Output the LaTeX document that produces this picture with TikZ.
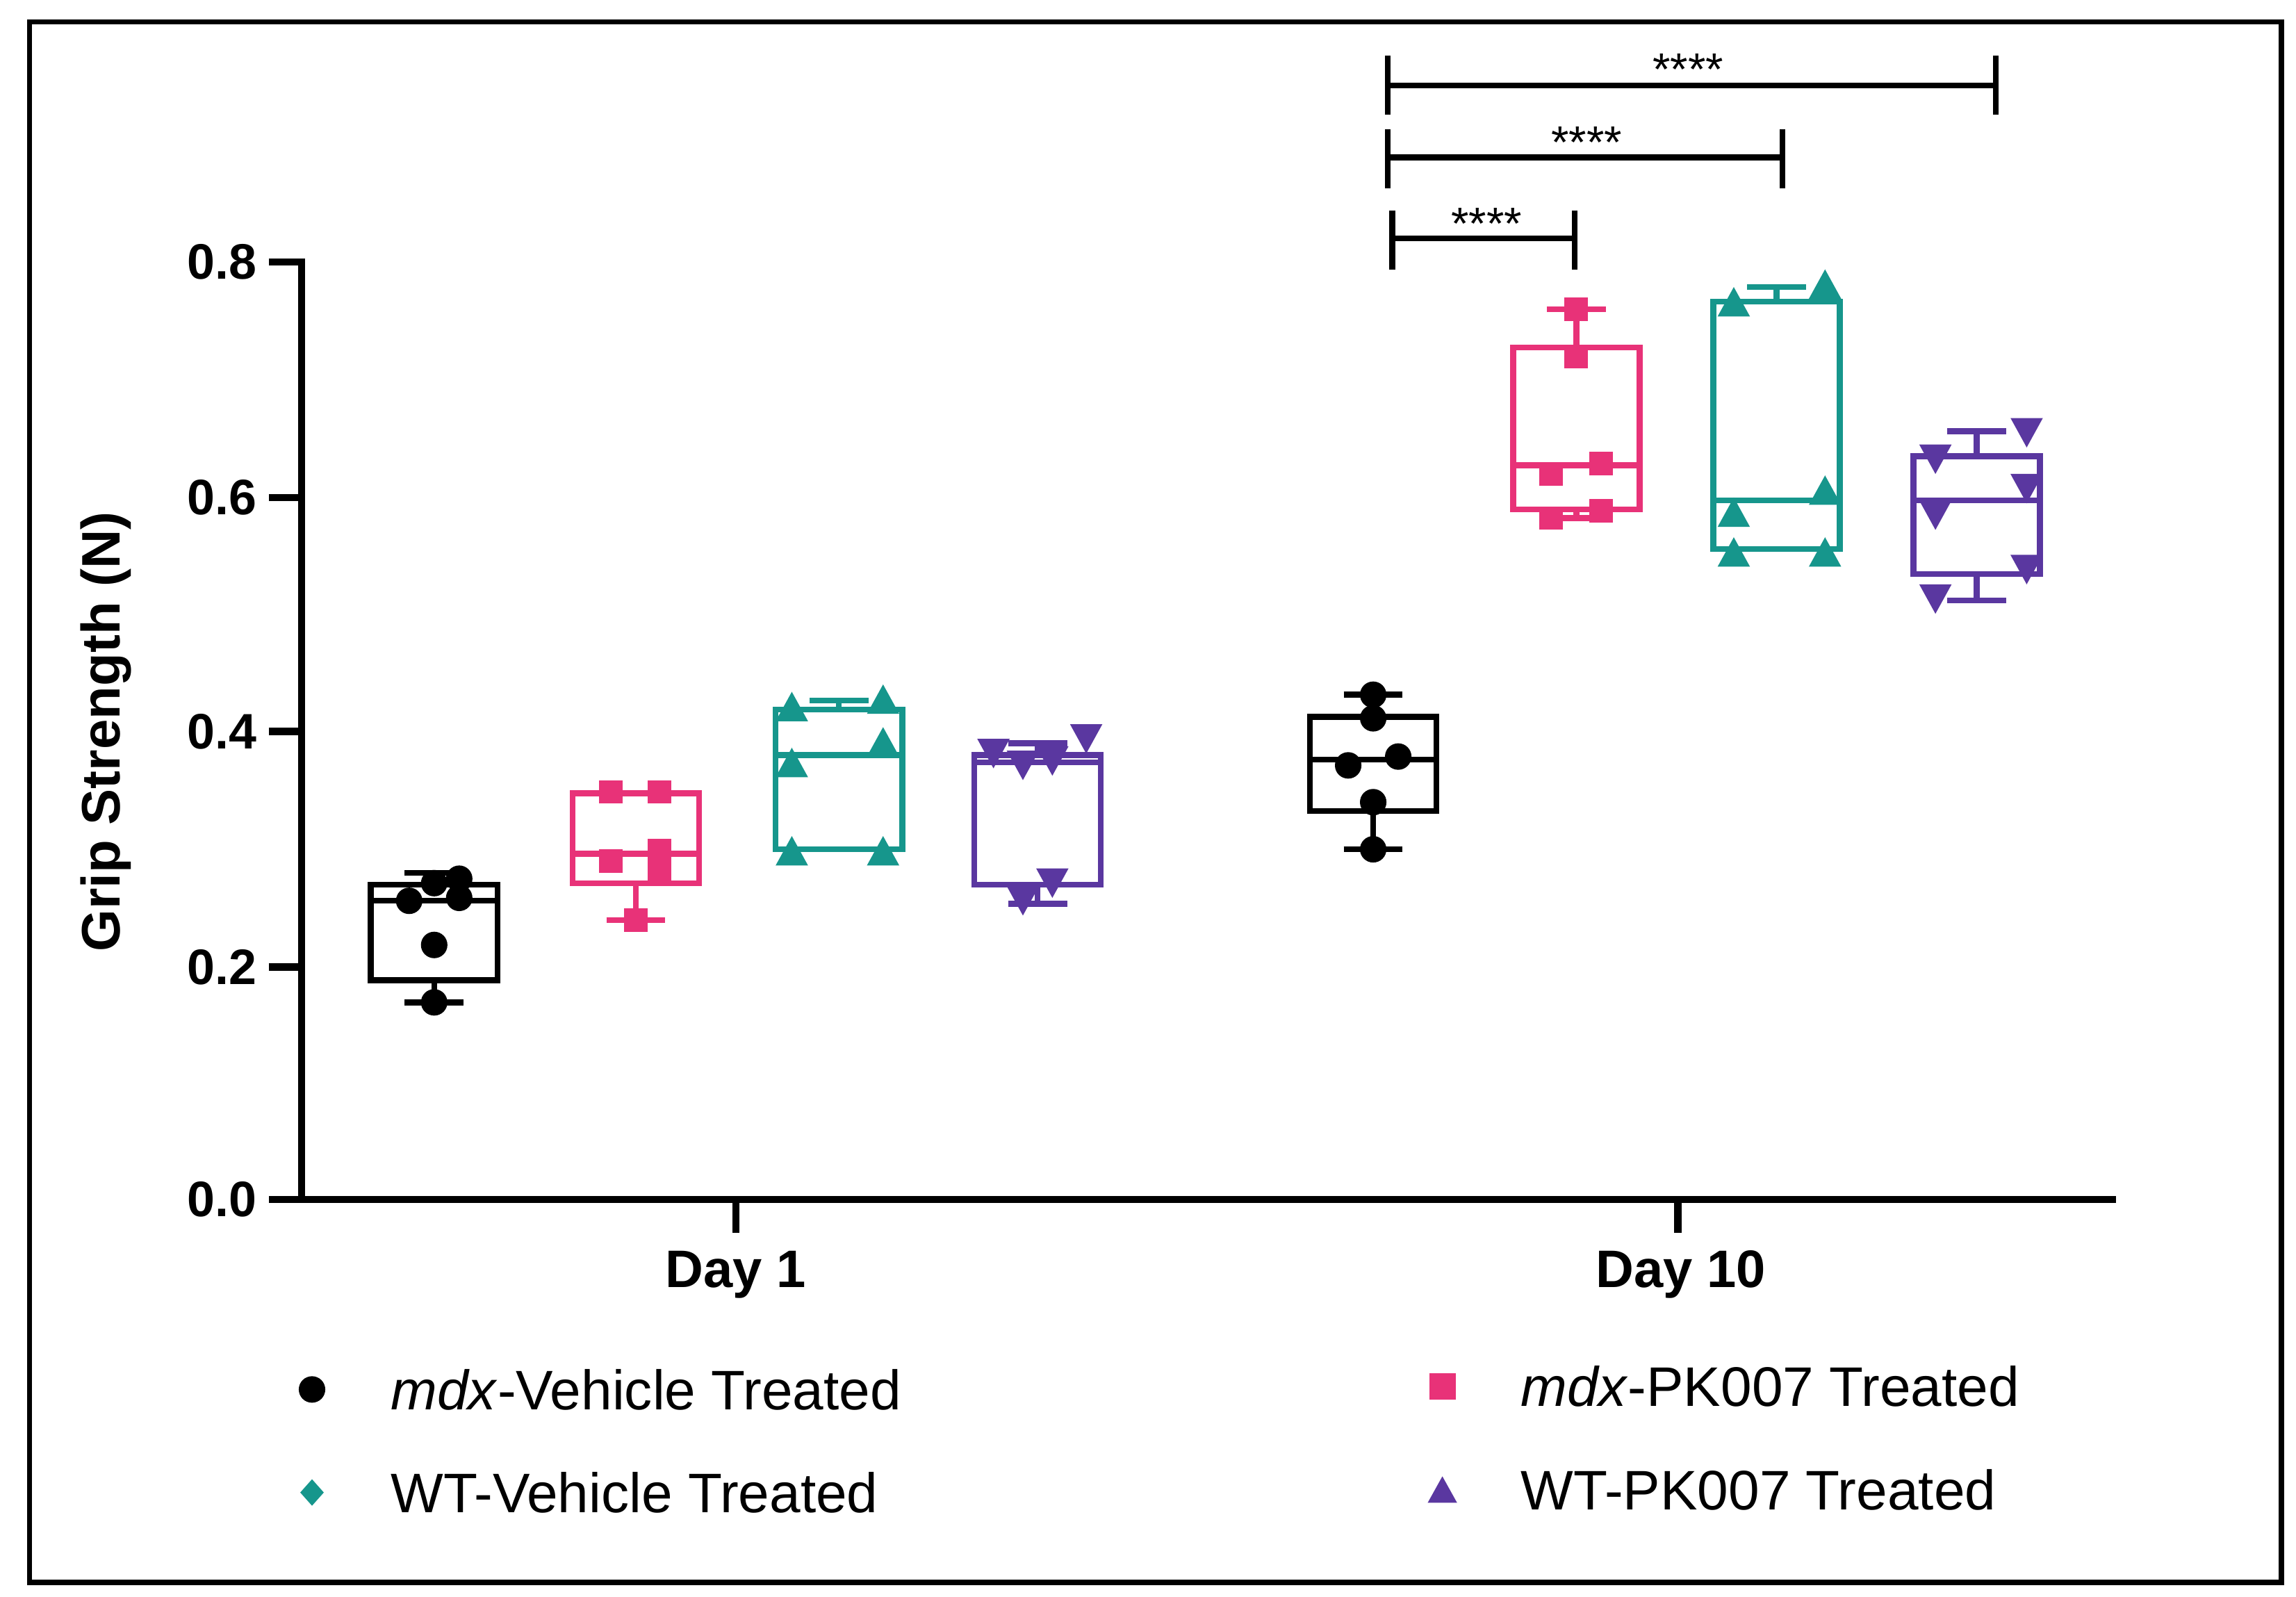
\documentclass[tikz,border=0pt]{standalone}
\usepackage{fontspec}
\setmainfont{Liberation Sans}
\begin{document}
\definecolor{cpink}{RGB}{232,50,120}
\definecolor{cteal}{RGB}{22,150,140}
\definecolor{cpur}{RGB}{90,55,160}
\newcommand\bxplot[7]{% x,color,q3(top),q1(bottom),med,whi,wlo
 \draw[#2,line width=4bp] (#1-43,#3) rectangle (#1+43,#4);
 \draw[#2,line width=4bp] (#1-43,#5) -- (#1+43,#5);
 \draw[#2,line width=4bp] (#1,#3) -- (#1,#6) (#1-20,#6) -- (#1+20,#6);
 \draw[#2,line width=4bp] (#1,#4) -- (#1,#7) (#1-20,#7) -- (#1+20,#7);}
\newcommand\mcirc[3]{\fill[#1] (#2,#3) circle (9);}
\newcommand\msq[3]{\fill[#1] (#2-8,#3-8) rectangle (#2+8,#3+8);}
\newcommand\mtu[3]{\fill[#1] (#2,#3-12) -- (#2+11,#3+8) -- (#2-11,#3+8) -- cycle;}
\newcommand\mtd[3]{\fill[#1] (#2,#3+12) -- (#2+11,#3-8) -- (#2-11,#3-8) -- cycle;}
\begin{tikzpicture}[x=1bp,y=-1bp,
  ax/.style={line width=5bp,line cap=rect},
  tl/.style={font=\fontsize{34}{34}\selectfont\bfseries,anchor=east},
  lg/.style={font=\fontsize{38}{38}\selectfont,anchor=west},
  br/.style={line width=4bp},
  st/.style={font=\fontsize{31}{31}\selectfont}]
\useasboundingbox (0,0) rectangle (1560,1085);
\fill[white] (0,0) rectangle (1560,1085);
\draw[line width=3.5bp] (20,15) rectangle (1550,1075);
% axes
\draw[ax] (205,178) -- (205,815) -- (1435,815);
\foreach \yy/\lab in {178/0.8,338/0.6,497/0.4,657/0.2,815/0.0}{
 \draw[ax] (185,\yy) -- (205,\yy);
 \node[tl] (t\lab) at (178,\yy) {\lab};}
\draw[ax] (500,815) -- (500,835);
\draw[ax] (1140,815) -- (1140,835);
\node[font=\fontsize{36}{36}\selectfont\bfseries] (d1) at (500,866) {Day 1};
\node[font=\fontsize{36}{36}\selectfont\bfseries] (d10) at (1142,866) {Day 10};
\node[rotate=90,font=\fontsize{37}{37}\selectfont\bfseries] (yl) at (72,497) {Grip Strength (N)};
% boxes
\bxplot{295}{black}{601}{666}{612}{593}{681}
\bxplot{432}{cpink}{539}{600}{580}{539}{625}
\bxplot{570}{cteal}{482}{577}{513}{476}{577}
\bxplot{705}{cpur}{513}{601}{518}{505}{614}
\bxplot{933}{black}{487}{551}{516}{472}{577}
\bxplot{1071}{cpink}{236}{346}{316}{210}{352}
\bxplot{1207}{cteal}{205}{373}{340}{195}{373}
\bxplot{1343}{cpur}{310}{390}{340}{293}{408}
% points
\mcirc{black}{278}{612}\mcirc{black}{295}{600}\mcirc{black}{312}{597}
\mcirc{black}{312}{610}\mcirc{black}{295}{642}\mcirc{black}{295}{681}
\msq{cpink}{415}{538}\msq{cpink}{448}{538}\msq{cpink}{415}{585}
\msq{cpink}{448}{578}\msq{cpink}{448}{592}\msq{cpink}{432}{625}
\mtu{cteal}{538}{482}\mtu{cteal}{600}{477}\mtu{cteal}{538}{520}
\mtu{cteal}{600}{506}\mtu{cteal}{538}{580}\mtu{cteal}{600}{580}
\mtd{cpur}{675}{510}\mtd{cpur}{695}{518}\mtd{cpur}{715}{515}
\mtd{cpur}{738}{500}\mtd{cpur}{695}{610}\mtd{cpur}{715}{598}
\mcirc{black}{933}{472}\mcirc{black}{933}{488}\mcirc{black}{916}{520}
\mcirc{black}{950}{514}\mcirc{black}{933}{545}\mcirc{black}{933}{577}
\msq{cpink}{1071}{210}\msq{cpink}{1071}{242}\msq{cpink}{1054}{322}
\msq{cpink}{1088}{315}\msq{cpink}{1054}{352}\msq{cpink}{1088}{347}
\mtu{cteal}{1178}{207}\mtu{cteal}{1240}{195}\mtu{cteal}{1178}{350}
\mtu{cteal}{1240}{335}\mtu{cteal}{1178}{377}\mtu{cteal}{1240}{377}
\mtd{cpur}{1315}{310}\mtd{cpur}{1377}{292}\mtd{cpur}{1315}{348}
\mtd{cpur}{1377}{330}\mtd{cpur}{1315}{405}\mtd{cpur}{1377}{385}
% brackets
\draw[br] (946,143) -- (946,183) (946,162) -- (1070,162) (1070,143) -- (1070,183);
\node[st] (s1) at (1010,152) {****};
\draw[br] (943,88) -- (943,128) (943,107) -- (1211,107) (1211,88) -- (1211,128);
\node[st] (s2) at (1078,97) {****};
\draw[br] (943,38) -- (943,78) (943,58) -- (1356,58) (1356,38) -- (1356,78);
\node[st] (s3) at (1147,47) {****};
% legend
\fill[black] (212,944) circle (9);
\node[lg] (l1) at (262,944) {\textit{mdx}-Vehicle Treated};
\fill[cpink] (971,933) rectangle (989,951);
\node[lg] (l2) at (1030,942) {\textit{mdx}-PK007 Treated};
\fill[cteal] (212,1005) -- (220,1014) -- (212,1023) -- (204,1014) -- cycle;
\node[lg] (l3) at (262,1014) {WT-Vehicle Treated};
\fill[cpur] (980,1003) -- (990,1021) -- (970,1021) -- cycle;
\node[lg] (l4) at (1030,1012) {WT-PK007 Treated};
\end{tikzpicture}
\end{document}
